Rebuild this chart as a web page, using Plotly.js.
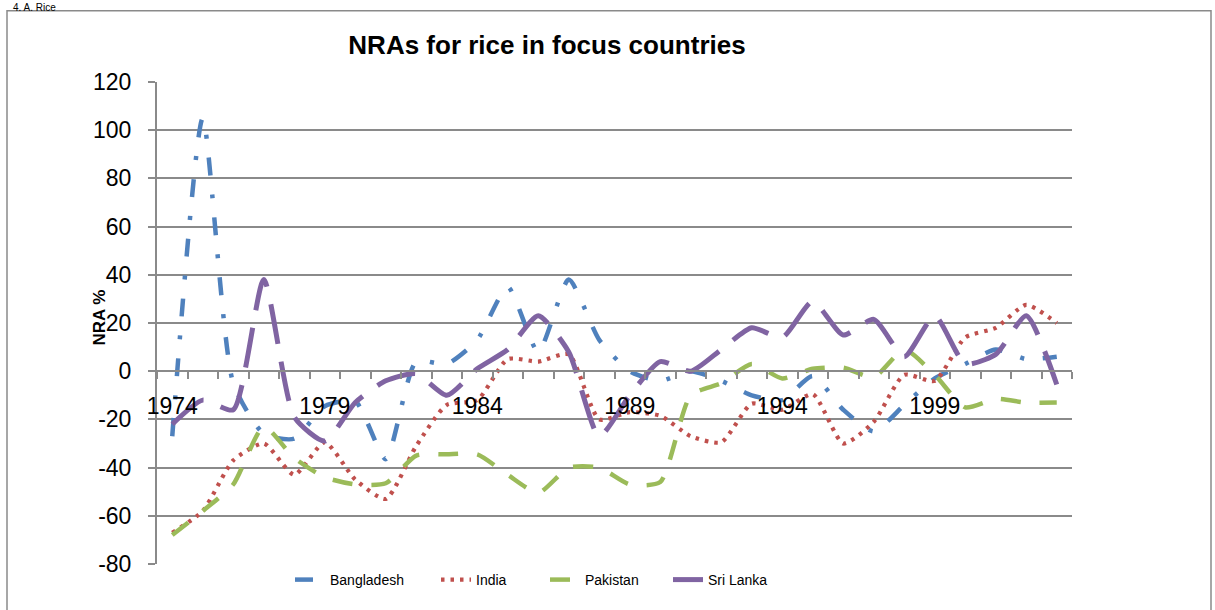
<!DOCTYPE html>
<html>
<head>
<meta charset="utf-8">
<script src="https://cdn.plot.ly/plotly-3.0.1.min.js"></script>
<style>
html,body{margin:0;padding:0;background:#fff;}
#chart{width:1215px;height:610px;}
</style>
</head>
<body>
<div id="chart"></div>
<script>
// ---- data ----
const years = [1974,1975,1976,1977,1978,1979,1980,1981,1982,1983,1984,1985,1986,1987,1988,1989,1990,1991,1992,1993,1994,1995,1996,1997,1998,1999,2000,2001,2002,2003];
const bangladesh = [-27,105,-5,-26,-28,-14.5,-12.5,-36.5,4,3,13,35,8,38,13,0,-4,0,-4,-10,-12,-2,-16,-25,-14,-3,3,9,5,6];
const india = [-67,-58,-37,-30,-43,-29.5,-45,-53,-31,-14,-12,5,4,7,-20,-17,-18.5,-27,-29.5,-13.5,-16,-9.5,-30,-21,-1.5,-4,14,18,27.5,20];
const pakistan = [-68,-58,-47,-23,-36,-44,-47,-46.5,-35,-34.5,-34.5,-43,-50.5,-40,-40,-47,-46,-10,-5,3,-3,1,1.5,-2.5,9,-1.5,-15,-11.5,-13,-13];
const srilanka = [-22,-12,-16,38,-19,-29,-13,-4,-1,-10,1,9,23,8,-27,-10,4,0,9,18,14,29,15,21.5,6,23,3,7,23,-5.5];
const seriesNames = ['Bangladesh','India','Pakistan','Sri Lanka'];
const xTickLabels = ['1974','1979','1984','1989','1994','1999'];
const yTicks = [-80,-60,-40,-20,0,20,40,60,80,100,120];
const chartTitle = 'NRAs for rice in focus countries';
const yTitle = 'NRA %';
const sectionHeading = '4. A. Rice';

// ---- layout geometry ----
const W = 1215, H = 610;
const PL = 157, PR = 1072, PT = 82, PB = 569;
const yMin = -80, yMax = 120;
const px2x = px => (px - PL) / (PR - PL);
const px2y = py => (PB - py) / (PB - PT);
const FONT = 'Liberation Sans, Arial, sans-serif';
const GRID = '#8a8a8a';

const colors = ['#4F81BD','#C0504D','#9BBB59','#8064A2'];
const dashes = ['18px,19px,4px,19px','3.5px,6px','20px,19px','40px,18px'];
const widths = [4.5,4.2,4.5,5];
const values = [bangladesh, india, pakistan, srilanka];
const legendIds = ['legend','legend2','legend3','legend4'];
const legendTextX = [332, 478, 587, 710];

const traces = values.map((v,i) => ({
  x: years, y: v, name: seriesNames[i], type: 'scatter', mode: 'lines',
  line: {color: colors[i], width: widths[i], dash: dashes[i], shape: 'spline', smoothing: 0.6},
  legend: legendIds[i], hoverinfo: 'skip'
}));

const boundaries = years.map(y => y - 0.5).concat([years[years.length-1] + 0.5]);

const layout = {
  width: W, height: H,
  margin: {l: PL, r: W - PR, t: PT, b: H - PB, pad: 0},
  paper_bgcolor: '#fff', plot_bgcolor: '#fff',
  font: {family: FONT, color: '#000'},
  title: {text: '<b>' + chartTitle + '</b>', font: {size: 26, family: FONT, color: '#000'},
          x: 547 / W, xref: 'container', xanchor: 'center', y: 1 - 45 / H, yref: 'container', yanchor: 'middle'},
  xaxis: {
    range: [years[0] - 0.5, years[years.length-1] + 0.5],
    anchor: 'free', position: (0 - yMin) / (yMax - yMin),
    showline: true, linecolor: GRID, linewidth: 2,
    tickmode: 'array', tickvals: xTickLabels.map(Number), ticktext: xTickLabels,
    ticks: '', showgrid: false, zeroline: false,
    tickfont: {size: 23, family: FONT, color: '#000'},
    ticklabelstandoff: 14,
    minor: {tickmode: 'array', tickvals: boundaries, ticks: 'outside', ticklen: 7, tickwidth: 2, tickcolor: GRID, showgrid: false}
  },
  yaxis: {
    range: [yMin, yMax], tickmode: 'array', tickvals: yTicks, ticktext: yTicks.map(String),
    showgrid: true, gridcolor: GRID, gridwidth: 2,
    showline: true, linecolor: GRID, linewidth: 2,
    ticks: 'outside', ticklen: 7, tickwidth: 2, tickcolor: GRID,
    zeroline: false,
    tickfont: {size: 23, family: FONT, color: '#000'},
    ticklabelstandoff: 12
  },
  shapes: [{
    type: 'rect', xref: 'paper', yref: 'paper', layer: 'below',
    x0: px2x(7), x1: px2x(1211), y0: px2y(640), y1: px2y(10),
    line: {color: '#8a8a8a', width: 1.5}, fillcolor: 'rgba(0,0,0,0)'
  }],
  annotations: [{
    text: sectionHeading, xref: 'paper', yref: 'paper', x: px2x(12), y: px2y(0),
    xanchor: 'left', yanchor: 'top', showarrow: false, borderpad: 0,
    font: {size: 10, family: FONT, color: '#000'}
  }, {
    text: '<b>' + yTitle + '</b>', xref: 'paper', yref: 'paper', x: px2x(100), y: px2y(320),
    xanchor: 'center', yanchor: 'middle', textangle: -90, showarrow: false,
    font: {size: 17, family: FONT, color: '#000'}
  }],
  showlegend: true
};
legendIds.forEach((id,i) => {
  layout[id] = {
    x: (legendTextX[i] - 42) / W, xref: 'container', xanchor: 'left',
    y: 1 - 580 / H, yref: 'container', yanchor: 'middle',
    orientation: 'h', bgcolor: 'rgba(0,0,0,0)', borderwidth: 0,
    font: {size: 14, family: FONT, color: '#000'}
  };
});

Plotly.newPlot('chart', traces, layout, {displayModeBar: false, staticPlot: true});
</script>
</body>
</html>
